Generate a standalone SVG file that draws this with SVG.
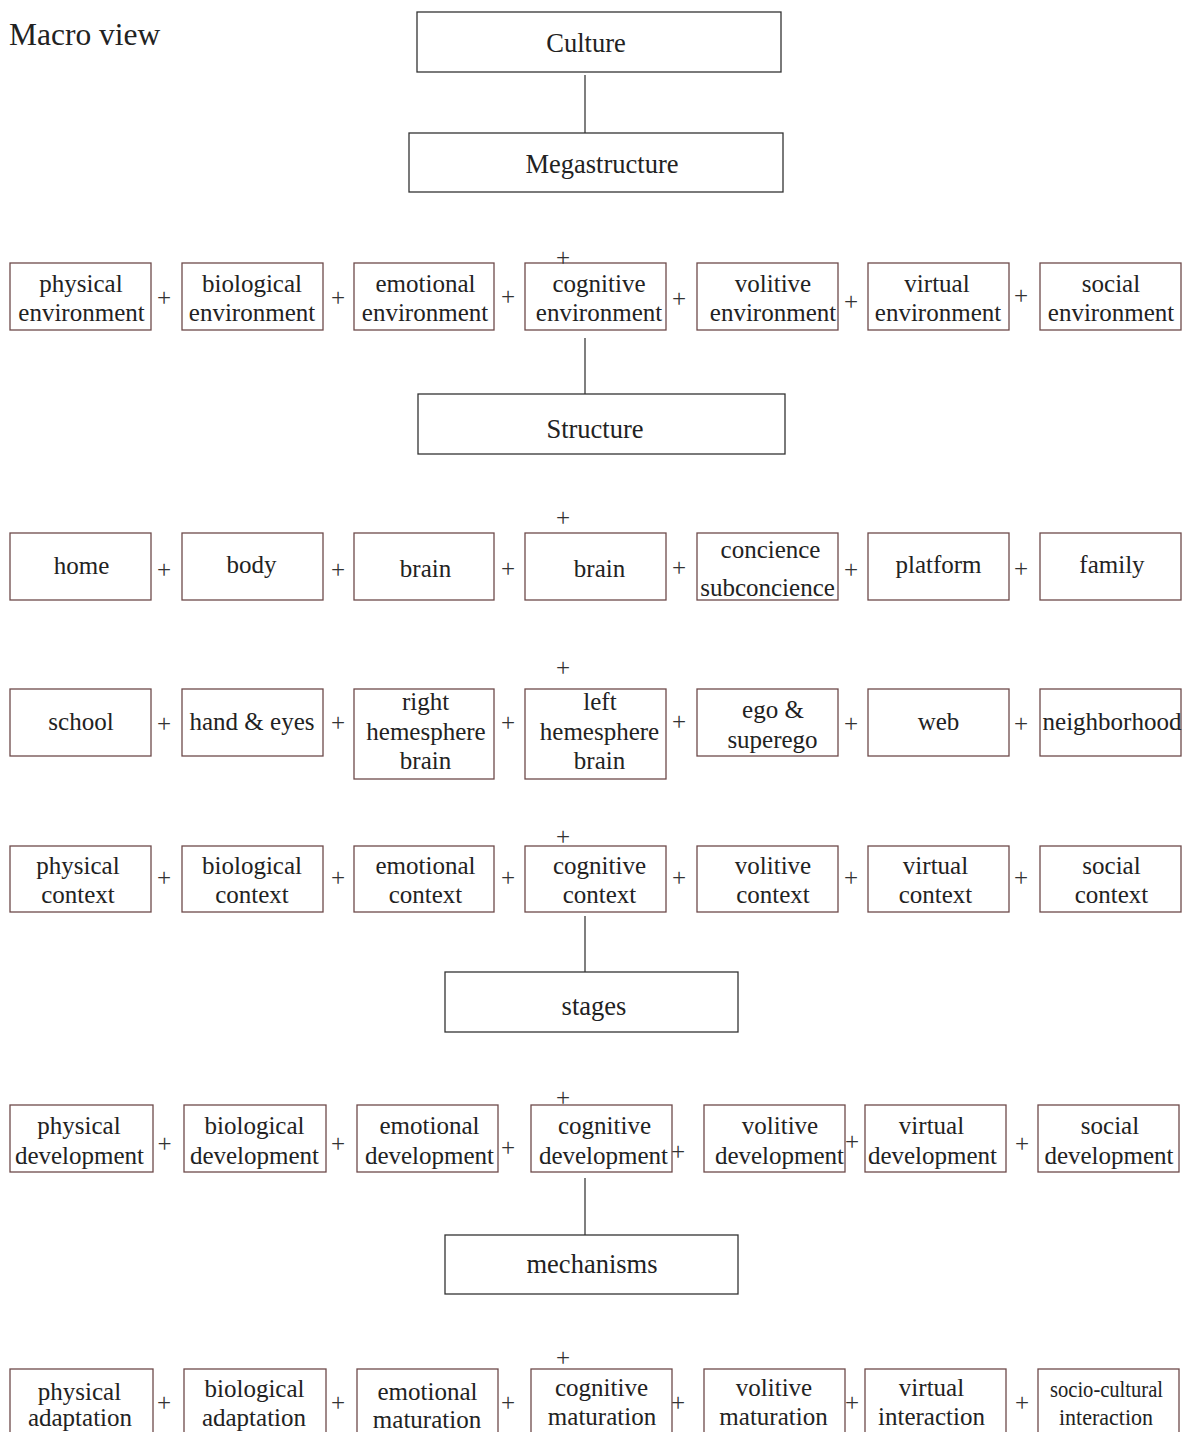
<svg xmlns="http://www.w3.org/2000/svg" width="1183" height="1432" viewBox="0 0 1183 1432">
<style>
text{font-family:"Liberation Serif","Times New Roman",serif;fill:#222;text-anchor:middle}
.lbl{font-size:25px}
.main{font-size:26.5px}
.plus{font-size:25px;fill:#333}
.box{fill:#fff;stroke:#6e4a4a;stroke-width:1.3}
.mbox{fill:#fff;stroke:#333;stroke-width:1.3}
.conn{stroke:#555;stroke-width:1.5;fill:none}
</style>
<rect width="1183" height="1432" fill="#fff"/>
<text x="9" y="45" style="font-size:31.5px;text-anchor:start">Macro view</text>
<g id="connectors">
<line class="conn" x1="585" y1="75" x2="585" y2="133"/>
<line class="conn" x1="585" y1="338" x2="585" y2="394"/>
<line class="conn" x1="585" y1="916" x2="585" y2="972"/>
<line class="conn" x1="585" y1="1178" x2="585" y2="1235"/>
</g>
<g id="culture"><rect class="mbox" x="417" y="12" width="364" height="60"/><text class="main" x="586" y="52">Culture</text></g>
<g id="megastructure"><rect class="mbox" x="409" y="133" width="374" height="59"/><text class="main" x="602" y="173">Megastructure</text></g>
<g id="structure"><rect class="mbox" x="418" y="394" width="367" height="60"/><text class="main" x="595" y="438">Structure</text></g>
<g id="stages"><rect class="mbox" x="445" y="972" width="293" height="60"/><text class="main" x="594" y="1015">stages</text></g>
<g id="mechanisms"><rect class="mbox" x="445" y="1235" width="293" height="59"/><text class="main" x="592" y="1273">mechanisms</text></g>

<!-- Row 1 environment -->
<g id="physical-environment"><rect class="box" x="10" y="263" width="141" height="67"/><text class="lbl" x="81" y="292">physical</text><text class="lbl" x="81.5" y="321">environment</text></g>
<g id="biological-environment"><rect class="box" x="182" y="263" width="141" height="67"/><text class="lbl" x="252" y="292">biological</text><text class="lbl" x="252" y="321">environment</text></g>
<g id="emotional-environment"><rect class="box" x="354" y="263" width="140" height="67"/><text class="lbl" x="425.5" y="292">emotional</text><text class="lbl" x="425" y="321">environment</text></g>
<g id="cognitive-environment"><rect class="box" x="525" y="263" width="141" height="67"/><text class="lbl" x="599" y="292">cognitive</text><text class="lbl" x="599" y="321">environment</text></g>
<g id="volitive-environment"><rect class="box" x="697" y="263" width="141" height="67"/><text class="lbl" x="773" y="292">volitive</text><text class="lbl" x="773" y="321">environment</text></g>
<g id="virtual-environment"><rect class="box" x="868" y="263" width="141" height="67"/><text class="lbl" x="937" y="292">virtual</text><text class="lbl" x="938" y="321">environment</text></g>
<g id="social-environment"><rect class="box" x="1040" y="263" width="141" height="67"/><text class="lbl" x="1111" y="292">social</text><text class="lbl" x="1111" y="321">environment</text></g>
<g id="plus-row1">
<text class="plus" x="563" y="266">+</text>
<text class="plus" x="164" y="306">+</text><text class="plus" x="338" y="306">+</text><text class="plus" x="508" y="305">+</text><text class="plus" x="679" y="307">+</text><text class="plus" x="851" y="310">+</text><text class="plus" x="1021" y="304">+</text>
</g>

<!-- Row 2 -->
<g id="home"><rect class="box" x="10" y="533" width="141" height="67"/><text class="lbl" x="81.5" y="574">home</text></g>
<g id="body"><rect class="box" x="182" y="533" width="141" height="67"/><text class="lbl" x="251.5" y="573">body</text></g>
<g id="brain-1"><rect class="box" x="354" y="533" width="140" height="67"/><text class="lbl" x="425.5" y="577">brain</text></g>
<g id="brain-2"><rect class="box" x="525" y="533" width="141" height="67"/><text class="lbl" x="599.5" y="577">brain</text></g>
<g id="concience"><rect class="box" x="697" y="533" width="141" height="67"/><text class="lbl" x="770.5" y="558">concience</text><text class="lbl" x="767.5" y="596">subconcience</text></g>
<g id="platform"><rect class="box" x="868" y="533" width="141" height="67"/><text class="lbl" x="938.5" y="573">platform</text></g>
<g id="family"><rect class="box" x="1040" y="533" width="141" height="67"/><text class="lbl" x="1112" y="573">family</text></g>
<g id="plus-row2">
<text class="plus" x="563" y="526">+</text>
<text class="plus" x="164" y="578">+</text><text class="plus" x="338" y="578">+</text><text class="plus" x="508" y="577">+</text><text class="plus" x="679" y="576">+</text><text class="plus" x="851" y="578">+</text><text class="plus" x="1021" y="577">+</text>
</g>

<!-- Row 3 -->
<g id="school"><rect class="box" x="10" y="689" width="141" height="67"/><text class="lbl" x="81" y="730">school</text></g>
<g id="hand-eyes"><rect class="box" x="182" y="689" width="141" height="67"/><text class="lbl" x="252" y="730">hand &amp; eyes</text></g>
<g id="right-hemesphere"><rect class="box" x="354" y="689" width="140" height="90"/><text class="lbl" x="425.5" y="710">right</text><text class="lbl" x="426" y="740">hemesphere</text><text class="lbl" x="425.5" y="769">brain</text></g>
<g id="left-hemesphere"><rect class="box" x="525" y="689" width="141" height="90"/><text class="lbl" x="600" y="710">left</text><text class="lbl" x="599.5" y="740">hemesphere</text><text class="lbl" x="599.5" y="769">brain</text></g>
<g id="ego-superego"><rect class="box" x="697" y="689" width="141" height="67"/><text class="lbl" x="773" y="718">ego &amp;</text><text class="lbl" x="772.5" y="748">superego</text></g>
<g id="web"><rect class="box" x="868" y="689" width="141" height="67"/><text class="lbl" x="938.5" y="730">web</text></g>
<g id="neighborhood"><rect class="box" x="1040" y="689" width="141" height="67"/><text class="lbl" x="1112" y="730">neighborhood</text></g>
<g id="plus-row3">
<text class="plus" x="563" y="676">+</text>
<text class="plus" x="164" y="732">+</text><text class="plus" x="338" y="731">+</text><text class="plus" x="508" y="731">+</text><text class="plus" x="679" y="730">+</text><text class="plus" x="851" y="732">+</text><text class="plus" x="1021" y="732">+</text>
</g>

<!-- Row 4 context -->
<g id="physical-context"><rect class="box" x="10" y="846" width="141" height="66"/><text class="lbl" x="78" y="874">physical</text><text class="lbl" x="78" y="903">context</text></g>
<g id="biological-context"><rect class="box" x="182" y="846" width="141" height="66"/><text class="lbl" x="252" y="874">biological</text><text class="lbl" x="252" y="903">context</text></g>
<g id="emotional-context"><rect class="box" x="354" y="846" width="140" height="66"/><text class="lbl" x="425.5" y="874">emotional</text><text class="lbl" x="425.5" y="903">context</text></g>
<g id="cognitive-context"><rect class="box" x="525" y="846" width="141" height="66"/><text class="lbl" x="599.5" y="874">cognitive</text><text class="lbl" x="599.5" y="903">context</text></g>
<g id="volitive-context"><rect class="box" x="697" y="846" width="141" height="66"/><text class="lbl" x="773" y="874">volitive</text><text class="lbl" x="773" y="903">context</text></g>
<g id="virtual-context"><rect class="box" x="868" y="846" width="141" height="66"/><text class="lbl" x="935.5" y="874">virtual</text><text class="lbl" x="935.5" y="903">context</text></g>
<g id="social-context"><rect class="box" x="1040" y="846" width="141" height="66"/><text class="lbl" x="1111.5" y="874">social</text><text class="lbl" x="1111.5" y="903">context</text></g>
<g id="plus-row4">
<text class="plus" x="563" y="845">+</text>
<text class="plus" x="164" y="886">+</text><text class="plus" x="338" y="886">+</text><text class="plus" x="508" y="886">+</text><text class="plus" x="679" y="886">+</text><text class="plus" x="851" y="886">+</text><text class="plus" x="1021" y="886">+</text>
</g>

<!-- Row 5 development -->
<g id="physical-development"><rect class="box" x="10" y="1105" width="143" height="67"/><text class="lbl" x="79" y="1134">physical</text><text class="lbl" x="79.5" y="1164">development</text></g>
<g id="biological-development"><rect class="box" x="184" y="1105" width="142" height="67"/><text class="lbl" x="254.5" y="1134">biological</text><text class="lbl" x="254.5" y="1164">development</text></g>
<g id="emotional-development"><rect class="box" x="357" y="1105" width="141" height="67"/><text class="lbl" x="429.5" y="1134">emotional</text><text class="lbl" x="429.5" y="1164">development</text></g>
<g id="cognitive-development"><rect class="box" x="531" y="1105" width="141" height="67"/><text class="lbl" x="604.5" y="1134">cognitive</text><text class="lbl" x="603.5" y="1164">development</text></g>
<g id="volitive-development"><rect class="box" x="704" y="1105" width="141" height="67"/><text class="lbl" x="780" y="1134">volitive</text><text class="lbl" x="779.5" y="1164">development</text></g>
<g id="virtual-development"><rect class="box" x="865" y="1105" width="141" height="67"/><text class="lbl" x="931.5" y="1134">virtual</text><text class="lbl" x="932.5" y="1164">development</text></g>
<g id="social-development"><rect class="box" x="1038" y="1105" width="141" height="67"/><text class="lbl" x="1110" y="1134">social</text><text class="lbl" x="1109" y="1164">development</text></g>
<g id="plus-row5">
<text class="plus" x="563" y="1106">+</text>
<text class="plus" x="164.5" y="1152">+</text><text class="plus" x="338" y="1152">+</text><text class="plus" x="508" y="1156">+</text><text class="plus" x="678" y="1160">+</text><text class="plus" x="852" y="1150">+</text><text class="plus" x="1022" y="1152">+</text>
</g>

<!-- Row 6 mechanisms -->
<g id="physical-adaptation"><rect class="box" x="10" y="1369" width="143" height="80"/><text class="lbl" x="79.5" y="1400">physical</text><text class="lbl" x="80" y="1426">adaptation</text></g>
<g id="biological-adaptation"><rect class="box" x="184" y="1369" width="142" height="80"/><text class="lbl" x="254.5" y="1397">biological</text><text class="lbl" x="254" y="1426">adaptation</text></g>
<g id="emotional-maturation"><rect class="box" x="357" y="1369" width="141" height="80"/><text class="lbl" x="427.5" y="1400">emotional</text><text class="lbl" x="427" y="1428">maturation</text></g>
<g id="cognitive-maturation"><rect class="box" x="531" y="1369" width="141" height="80"/><text class="lbl" x="601.5" y="1396">cognitive</text><text class="lbl" x="602" y="1425">maturation</text></g>
<g id="volitive-maturation"><rect class="box" x="704" y="1369" width="141" height="80"/><text class="lbl" x="774" y="1396">volitive</text><text class="lbl" x="773.5" y="1425">maturation</text></g>
<g id="virtual-interaction"><rect class="box" x="865" y="1369" width="141" height="80"/><text class="lbl" x="931.5" y="1396">virtual</text><text class="lbl" x="931.5" y="1425">interaction</text></g>
<g id="socio-cultural-interaction"><rect class="box" x="1038" y="1369" width="141" height="80"/><text class="lbl" x="1106.5" y="1397" textLength="113" lengthAdjust="spacingAndGlyphs" style="font-size:23px">socio-cultural</text><text class="lbl" x="1106" y="1425" textLength="94" lengthAdjust="spacingAndGlyphs" style="font-size:23px">interaction</text></g>
<g id="plus-row6">
<text class="plus" x="563" y="1366">+</text>
<text class="plus" x="164" y="1411">+</text><text class="plus" x="338" y="1411">+</text><text class="plus" x="508" y="1411">+</text><text class="plus" x="678" y="1411">+</text><text class="plus" x="852" y="1411">+</text><text class="plus" x="1022" y="1411">+</text>
</g>
</svg>
